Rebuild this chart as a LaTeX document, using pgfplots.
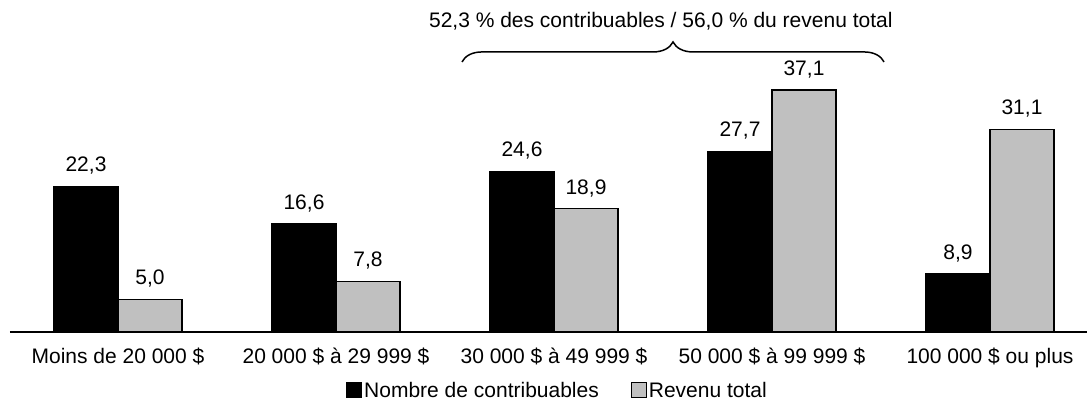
\documentclass[border=0pt]{standalone}
\usepackage{fontspec}
\setmainfont{Liberation Sans}
\usepackage{pgfplots}
\pgfplotsset{compat=1.18}
\usetikzlibrary{decorations.pathreplacing}

\definecolor{barGray}{RGB}{192,192,192}

\begin{document}
\begin{tikzpicture}[font=\fontsize{10.5pt}{12.6pt}\selectfont]
\useasboundingbox (-5pt,-34pt) rectangle (538.5pt,166pt);
\begin{axis}[
    scale only axis,
    width=538.5pt,
    height=166pt,
    xmin=-0.4954, xmax=4.445,
    ymin=0, ymax=50.9,
    axis y line=none,
    axis x line*=bottom,
    axis line style={line width=0.75pt, -},
    ytick=\empty,
    xtick={0,1,2,3,4},
    xticklabels={Moins de 20 000 \$, 20 000 \$ à 29 999 \$, 30 000 \$ à 49 999 \$, 50 000 \$ à 99 999 \$, 100 000 \$ ou plus},
    major tick length=0pt,
    xticklabel style={anchor=base, inner sep=0pt, yshift=-15.8pt},
    ybar=0pt,
    bar width=32pt,
    clip=false,
    nodes near coords={\pgfmathprintnumber[use comma, fixed, fixed zerofill, precision=1, assume math mode=true]{\pgfplotspointmeta}},
    nodes near coords style={anchor=base, inner sep=0pt, yshift=7.3pt, black},
    legend style={draw=none, fill=none, at={(0.5,0)}, anchor=center, xshift=4.5pt, yshift=-29pt,
        legend columns=2, inner sep=0pt,
        /tikz/every even column/.append style={column sep=15pt},
        nodes={inner sep=1pt, text height=7.5pt, text depth=0pt}},
    legend image code/.code={\draw[#1, line width=0.5pt] (0pt,-3.75pt) rectangle (7.5pt,3.75pt);},
]
\addplot[fill=black, draw=black, line width=0.6pt] coordinates {(0,22.3) (1,16.6) (2,24.6) (3,27.7) (4,8.9)};
\addlegendentry{Nombre de contribuables}
\addplot[fill=barGray, draw=black, line width=0.6pt] coordinates {(0,5.0) (1,7.8) (2,18.9) (3,37.1) (4,31.1)};
\addlegendentry{Revenu total}

\draw[decorate, decoration={brace, amplitude=10pt}, line width=0.75pt]
    (axis cs:1.578,41.4) -- (axis cs:3.514,41.4);
\node[anchor=base, inner sep=0pt] at (axis cs:2.49,46.74) {52,3 \% des contribuables / 56,0 \% du revenu total};
\end{axis}
\end{tikzpicture}
\end{document}
